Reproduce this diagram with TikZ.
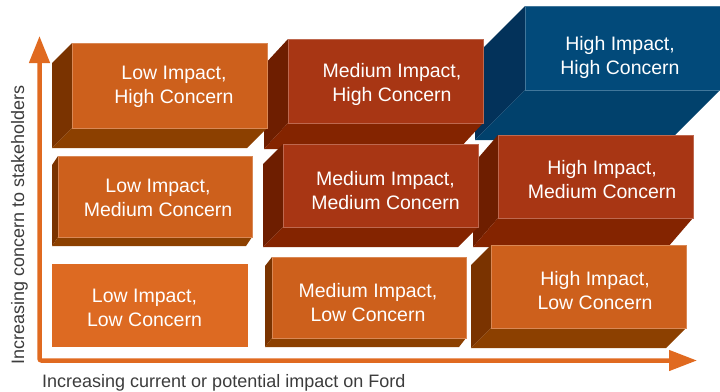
\documentclass[tikz,border=0pt]{standalone}
\usepackage{fontspec}
\setmainfont{Liberation Sans}
\usepackage{tikz}
\usetikzlibrary{arrows.meta}

\definecolor{orangefront}{HTML}{CD601C}
\definecolor{orangeside}{HTML}{7A3300}
\definecolor{orangebottom}{HTML}{8C4000}
\definecolor{orangeflat}{HTML}{DD6A22}
\definecolor{redfront}{HTML}{A83614}
\definecolor{redside}{HTML}{6E1E00}
\definecolor{redbottom}{HTML}{842400}
\definecolor{bluefront}{HTML}{024A7A}
\definecolor{blueside}{HTML}{03325A}
\definecolor{bluebottom}{HTML}{01416C}
\definecolor{axisorange}{HTML}{E06A20}
\definecolor{labelgray}{HTML}{3C3C3C}

\begin{document}
\begin{tikzpicture}[x=1pt,y=-1pt]
\tikzstyle{every node}+=[inner sep=0pt]
\tikzstyle{boxtext}=[text=white,align=center,font=\fontsize{19.5}{24}\selectfont]
\tikzstyle{axislabel}=[text=labelgray,font=\fontsize{18}{22}\selectfont]
\tikzstyle{axis}=[draw=axisorange,line width=4.5pt,rounded corners=2pt]
\tikzstyle{ofront}=[fill=orangefront,draw=orangefront!75!white,line width=0.6pt]
\tikzstyle{rfront}=[fill=redfront,draw=redfront!75!white,line width=0.6pt]
\tikzstyle{bfront}=[fill=bluefront,draw=bluefront!75!white,line width=0.6pt]
\useasboundingbox (0,0) rectangle (720,391);
% top row
\fill [blueside] (525,6) -- (475,56) -- (475,140) -- (525,90) -- cycle;
\fill [bluebottom] (525,90) -- (475,140) -- (670,140) -- (720,90) -- cycle;
\filldraw [bfront] (525,6) rectangle (720,90);
\node [boxtext] (hh) at (620,57) {High Impact,\\High Concern};
\fill [redside] (288,39) -- (264,65) -- (264,149) -- (288,123) -- cycle;
\fill [redbottom] (288,123) -- (264,149) -- (459,149) -- (483,123) -- cycle;
\filldraw [rfront] (288,39) rectangle (483,123);
\node [boxtext] (mh) at (392,84) {Medium Impact,\\High Concern};
\fill [orangeside] (72,43) -- (52,63) -- (52,148) -- (72,128) -- cycle;
\fill [orangebottom] (72,128) -- (52,148) -- (247,148) -- (267,128) -- cycle;
\filldraw [ofront] (72,43) rectangle (267,128);
\node [boxtext] (lh) at (174,87) {Low Impact,\\High Concern};
% middle row
\fill [redside] (498,135) -- (473,164) -- (473,247) -- (498,218) -- cycle;
\fill [redbottom] (498,218) -- (473,247) -- (668,247) -- (693,218) -- cycle;
\filldraw [rfront] (498,135) rectangle (693,218);
\node [boxtext] (hm) at (602,180) {High Impact,\\Medium Concern};
\fill [redside] (283,144) -- (263,164) -- (263,247) -- (283,227) -- cycle;
\fill [redbottom] (283,227) -- (263,247) -- (458,247) -- (478,227) -- cycle;
\filldraw [rfront] (283,144) rectangle (478,227);
\node [boxtext] (mm) at (385.5,191) {Medium Impact,\\Medium Concern};
\fill [orangeside] (58,156) -- (52,165) -- (52,246) -- (58,237) -- cycle;
\fill [orangebottom] (58,237) -- (52,246) -- (246,246) -- (252,237) -- cycle;
\filldraw [ofront] (58,156) rectangle (252,237);
\node [boxtext] (lm) at (158,198) {Low Impact,\\Medium Concern};
% bottom row
\fill [orangeside] (491,245) -- (471,265) -- (471,348) -- (491,328) -- cycle;
\fill [orangebottom] (491,328) -- (471,348) -- (666,348) -- (686,328) -- cycle;
\filldraw [ofront] (491,245) rectangle (686,328);
\node [boxtext] (hl) at (595,291) {High Impact,\\Low Concern};
\fill [orangeside] (272,257) -- (265,266) -- (265,347) -- (272,338) -- cycle;
\fill [orangebottom] (272,338) -- (265,347) -- (459,347) -- (466,338) -- cycle;
\filldraw [ofront] (272,257) rectangle (466,338);
\node [boxtext] (ml) at (368,303) {Medium Impact,\\Low Concern};
\fill [orangeflat] (52,264) rectangle (248,347);
\node [boxtext] (ll) at (144.5,308) {Low Impact,\\Low Concern};
% axes
\coordinate (origin) at (39.5,360.5);
\coordinate (ytip) at (39.5,36);
\coordinate (xtip) at (697,360.5);
\draw [axis,{Triangle[length=27pt,width=20pt]}-{Triangle[length=28pt,width=20pt]}] (ytip) |- (xtip);
\node [axislabel,anchor=base west] (xlabel) at (42,387) {Increasing current or potential impact on Ford};
\node [axislabel,anchor=base west,rotate=90] (ylabel) at (24,365) {Increasing concern to stakeholders};
\end{tikzpicture}
\end{document}
